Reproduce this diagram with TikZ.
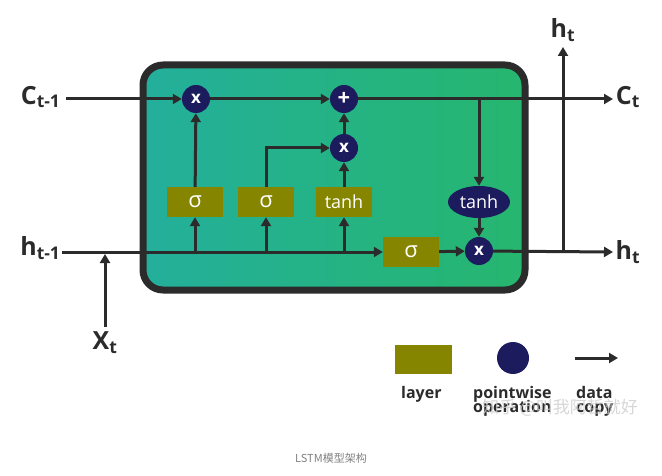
\documentclass[tikz,border=0pt]{standalone}
\usepackage{fontspec}
\setmainfont{Open Sans}
\newfontfamily\cjk{Noto Sans CJK SC}
\usetikzlibrary{arrows.meta,shapes.geometric}
\definecolor{olive}{HTML}{858500}
\definecolor{navy}{HTML}{1B1B5E}
\definecolor{dk}{HTML}{2B2B2B}
\begin{document}
\begin{tikzpicture}[x=1pt,y=-1pt,
  ar/.style={draw=dk,line width=3pt,-{Triangle[length=9pt,width=10pt]}},
  op/.style={circle,fill=navy,minimum size=28pt,inner sep=0pt,text=white,font=\bfseries\fontsize{17}{18}\selectfont},
  lay/.style={rectangle,fill=olive,minimum width=56pt,minimum height=30pt,inner sep=0pt,text=white,font=\fontsize{22}{24}\selectfont},
  lbl/.style={font=\fontsize{25}{27}\selectfont\bfseries,text=dk},
  leg/.style={font=\bfseries\fontsize{16}{17}\selectfont,text=dk,align=left,anchor=north west,inner sep=0pt}]
\useasboundingbox (0,0) rectangle (662,476);
\shade[left color={rgb,255:red,35;green,175;blue,155}, right color={rgb,255:red,38;green,182;blue,110}, rounded corners=20pt]
  (143,65) rectangle (525,290);
\draw[dk,line width=7pt,rounded corners=20pt] (143,65) rectangle (525,290);
\node[op] (m1) at (196,99) {x};
\node[op,font=\bfseries\fontsize{22}{22}\selectfont] (p) at (344,99) {+};
\node[op] (m2) at (344,148) {x};
\node[ellipse,fill=navy,minimum width=62pt,minimum height=32pt,inner sep=0pt,text=white,font=\fontsize{18}{20}\selectfont] (th2) at (479,202) {tanh};
\node[op] (m3) at (479,251) {x};
\node[lay] (s1) at (195,202) {σ};
\node[lay] (s2) at (266,202) {σ};
\node[lay,font=\fontsize{18}{20}\selectfont] (th1) at (344,202) {tanh};
\node[lay] (s3) at (411,252) {σ};
\node[lbl,anchor=east] (cin) at (64,97) {C\textsubscript{t-1}};
\node[lbl] (cout) at (628,97) {C\textsubscript{t}};
\node[lbl,anchor=east] (hin) at (64,248) {h\textsubscript{t-1}};
\node[lbl] (hout) at (628,252) {h\textsubscript{t}};
\node[lbl] (hup) at (563,30) {h\textsubscript{t}};
\node[lbl] (xin) at (105,343) {X\textsubscript{t}};
\coordinate (cs) at (66,99);
\coordinate (ce) at (613,99);
\coordinate (hs) at (62,252);
\coordinate (he) at (613,252);
\coordinate (vt) at (563,47);
\draw[ar] (cs) -- (m1);
\draw[ar] (m1) -- (p);
\draw[ar] (p) -- (ce);
\draw[ar] (479,99) -- (th2);
\draw[ar] (th2) -- (m3);
\draw[ar] (m2) -- (p);
\draw[ar] (th1) -- (m2);
\draw[ar] (s1) -- (m1);
\draw[ar] (s2.north) |- (m2);
\draw[ar] (hs) -- (s3);
\draw[ar] (s3) -- (m3);
\draw[ar] (m3) -- (he);
\draw[ar] (563,252) -- (vt);
\draw[ar] (195,252) -- (s1);
\draw[ar] (266,252) -- (s2);
\draw[ar] (344,252) -- (th1);
\draw[ar] (105,327) -- (105,254);
% legend
\node[rectangle,fill=olive,minimum width=57pt,minimum height=29pt] (lg1) at (423,359) {};
\node[circle,fill=navy,minimum size=32pt] (lg2) at (513,358) {};
\coordinate (la) at (575,358);
\coordinate (lb) at (618,358);
\draw[ar] (la) -- (lb);
\node[leg] (t1) at (401,386) {layer};
\node[leg] (t2) at (473,386) {pointwise\\[-3pt]operation};
\node[leg] (t3) at (576,386) {data\\[-3pt]copy};
\node[font=\cjk\fontsize{17}{18}\selectfont,text=gray!40,text opacity=0.8] (wm) at (560,408) {知乎 @叫我阿哲就好};
\node[font=\cjk\fontsize{11}{12}\selectfont,text=gray] (cap) at (331,458) {LSTM模型架构};
\end{tikzpicture}
\end{document}
